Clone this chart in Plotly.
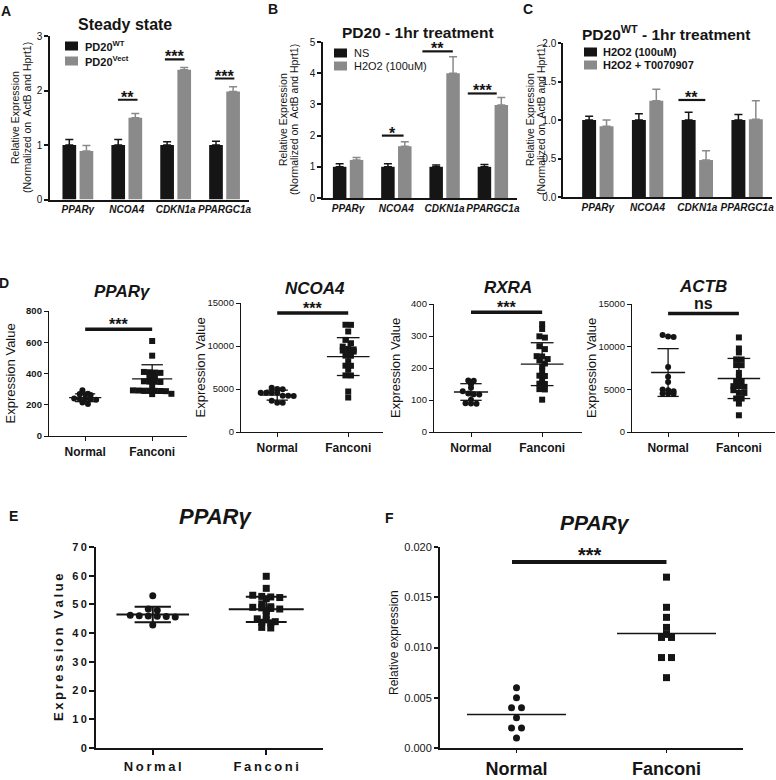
import plotly.graph_objects as go

W, H = 776, 780
FONT = "Arial, Liberation Sans, sans-serif"
BLACK = "#151515"
GREY = "#8a8a8a"
TS = "\u2009"  # thin space used for the letter-spaced labels of panel E

# ---------------- data ----------------
genes = ["PPARγ", "NCOA4", "CDKN1a", "PPARGC1a"]
groups = ["Normal", "Fanconi"]

# Panel A - steady state
A_wt = [1.0, 1.0, 1.0, 1.0]
A_wt_err = [0.10, 0.10, 0.06, 0.07]
A_vect = [0.89, 1.50, 2.38, 1.98]
A_vect_err = [0.10, 0.08, 0.04, 0.09]
A_sig_gene = [1, 2, 3]
A_sig_y = [1.83, 2.57, 2.22]
A_sig_txt = ["**", "***", "***"]

# Panel B - PD20 1hr treatment
B_ns = [1.0, 1.0, 1.0, 1.0]
B_ns_err = [0.10, 0.10, 0.06, 0.07]
B_h2o2 = [1.22, 1.66, 4.00, 2.98]
B_h2o2_err = [0.08, 0.14, 0.53, 0.24]
B_sig_gene = [1, 2, 3]
B_sig_y = [2.0, 4.70, 3.35]
B_sig_txt = ["*", "**", "***"]

# Panel C - PD20 WT 1hr treatment
C_h2o2 = [1.0, 1.0, 1.0, 1.0]
C_h2o2_err = [0.05, 0.08, 0.10, 0.07]
C_t007 = [0.92, 1.25, 0.48, 1.01]
C_t007_err = [0.08, 0.15, 0.12, 0.24]
C_sig_gene = [2]
C_sig_y = [1.26]
C_sig_txt = ["**"]

# Panel D - expression values
D_titles = ["PPARγ", "NCOA4", "RXRA", "ACTB"]
D_pparg_normal = [292, 270, 265, 268, 262, 240, 236, 238, 232, 235, 214, 205]
D_pparg_fanconi = [608, 514, 410, 408, 406, 404, 382, 378, 350, 348, 346, 347,
                   322, 292, 290, 288, 291, 289, 287, 290, 270, 268]
D_ncoa4_normal = [5140, 4990, 4980, 4560, 4570, 4550, 4560, 4210, 4200, 4220, 3620, 3390, 3400]
D_ncoa4_fanconi = [12470, 12460, 11690, 10710, 10320, 9930, 9660, 9470, 9350, 9400, 9600,
                   8880, 8870, 8220, 7710, 7700, 7250, 6580, 6570, 4710, 4010]
D_rxra_normal = [160, 161, 149, 138, 127, 118, 117, 120, 101, 89, 90, 88]
D_rxra_fanconi = [337, 322, 299, 295, 268, 259, 237, 228, 236, 224, 214, 204, 193,
                  175, 176, 163, 151, 150, 133, 134, 101]
D_actb_normal = [11200, 11120, 11355, 7630, 6460, 5870, 4970, 4780, 4900, 4500, 4510, 4490]
D_actb_fanconi = [11080, 9790, 9320, 8500, 8510, 7830, 7840, 6930, 6460, 5870, 5880, 5360,
                  5370, 5290, 4900, 4580, 4590, 3920, 3930, 3330, 1960]
D_mean = [[245, 365], [4285, 8770], [125, 212], [6970, 6270]]
D_sd = [[25, 91], [580, 2200], [26, 67], [2800, 2350]]
D_sig_y = [683, 13830, 374, 13900]
D_sig_txt = ["***", "***", "***", "ns"]
D_ticks = [[0, 200, 400, 600, 800], [0, 5000, 10000, 15000], [0, 100, 200, 300, 400],
           [0, 5000, 10000, 15000]]

# Panel E
E_normal = [53.0, 48.4, 48.0, 46.2, 46.0, 45.8, 45.9, 46.1, 45.6, 42.8]
E_fanconi = [59.8, 55.6, 53.2, 52.8, 52.6, 52.4, 52.0, 50.2, 49.2, 49.0, 48.8, 48.6,
             48.4, 47.8, 46.4, 45.0, 44.6, 44.0, 43.8, 43.6, 42.0, 41.8]
E_mean = [46.5, 48.3]
E_sd = [2.7, 4.4]
E_ticks = [0, 10, 20, 30, 40, 50, 60, 70]

# Panel F
F_normal = [0.006, 0.005, 0.004, 0.004, 0.003, 0.002, 0.002, 0.001]
F_fanconi = [0.017, 0.014, 0.013, 0.012, 0.0113, 0.011, 0.011, 0.009, 0.009, 0.007]
F_mean = [0.00333, 0.0114]
F_sig_y = 0.0185
F_ticks = [0, 0.005, 0.010, 0.015, 0.020]


# ---------------- helpers ----------------
def xd(a, b):
    return [a / W, b / W]


def yd(top, bot):
    return [1 - bot / H, 1 - top / H]


def px(x):
    return x / W


def py(y):
    return 1 - y / H


def swarm(vals, center, thr, step):
    order = sorted(range(len(vals)), key=lambda i: vals[i], reverse=True)
    rows, cur, start = [], [], None
    for i in order:
        if cur and start - vals[i] > thr:
            rows.append(cur)
            cur = []
        if not cur:
            start = vals[i]
        cur.append(i)
    if cur:
        rows.append(cur)
    xs = [0.0] * len(vals)
    for r in rows:
        n = len(r)
        for k, i in enumerate(r):
            xs[i] = center + (k - (n - 1) / 2) * step
    return xs


def ptext(x, y, text, size, angle=0, xanchor="center"):
    return dict(xref="paper", yref="paper", x=px(x), y=py(y), text=text, showarrow=False,
                xanchor=xanchor, yanchor="middle", textangle=angle,
                font=dict(size=size, family=FONT, color=BLACK))


fig = go.Figure()
layout = dict(width=W, height=H, margin=dict(l=0, r=0, t=0, b=0, autoexpand=False),
              paper_bgcolor="white", plot_bgcolor="white",
              font=dict(family=FONT, color=BLACK), showlegend=False,
              barmode="group", bargap=0.3, bargroupgap=0.2)
shapes, annots = [], []

# subplot geometry: (x0, x1, ytop, ybot, xrange, yrange)
geo = {
    1: (50, 249, 36, 199.5, [-0.57, 3.5], [0, 3]),
    2: (323, 517, 42, 198, [-0.52, 3.5], [0, 5]),
    3: (563, 772, 43, 197, [-0.7, 3.5], [0, 2]),
    4: (49, 187, 311, 436, [-0.54, 1.52], [0, 800]),
    5: (241, 383, 303, 432, [-0.51, 1.49], [0, 15000]),
    6: (434, 582, 304, 432, [-0.52, 1.56], [0, 400]),
    7: (632, 775, 304, 432, [-0.51, 1.51], [0, 15000]),
    8: (96, 323, 547, 748, [-0.5, 1.5], [0, 70]),
    9: (440, 743, 547, 748, [-0.51, 1.51], [0, 0.020]),
}


def axname(i):
    return ("x", "y") if i == 1 else (f"x{i}", f"y{i}")


def lkey(i):
    return ("xaxis", "yaxis") if i == 1 else (f"xaxis{i}", f"yaxis{i}")


for i, (x0, x1, yt, yb, xr, yr) in geo.items():
    xa, ya = axname(i)
    kx, ky = lkey(i)
    layout[kx] = dict(domain=xd(x0, x1), range=xr, anchor=ya, showline=True,
                      linecolor=BLACK, linewidth=1.5, showgrid=False, zeroline=False,
                      fixedrange=True, automargin=False, tickangle=0)
    layout[ky] = dict(domain=yd(yt, yb), range=yr, anchor=xa, showline=True,
                      linecolor=BLACK, linewidth=1.5, showgrid=False, zeroline=False,
                      ticks="outside", ticklen=4, tickwidth=1.5, tickcolor=BLACK,
                      tickfont=dict(size=10, family=FONT, color=BLACK), fixedrange=True,
                      automargin=False)

# ---------------- bar panels ----------------
bar_panels = [
    (1, A_wt, A_wt_err, A_vect, A_vect_err, A_sig_gene, A_sig_y, A_sig_txt,
     [(-0.18, 0.22), (-0.22, 0.18), (-0.2, 0.2)]),
    (2, B_ns, B_ns_err, B_h2o2, B_h2o2_err, B_sig_gene, B_sig_y, B_sig_txt,
     [(-0.3, 0.15), (-0.46, 0.17), (-0.52, 0.08)]),
    (3, C_h2o2, C_h2o2_err, C_t007, C_t007_err, C_sig_gene, C_sig_y, C_sig_txt,
     [(-0.38, 0.16)]),
]
for (i, v1, e1, v2, e2, sg, sy, st, offs) in bar_panels:
    xa, ya = axname(i)
    kx, ky = lkey(i)
    for vals, errs, col in ((v1, e1, BLACK), (v2, e2, GREY)):
        fig.add_trace(go.Bar(
            x=genes, y=vals, xaxis=xa, yaxis=ya, marker=dict(color=col, line=dict(width=0)),
            error_y=dict(type="data", array=errs, arrayminus=[0] * len(errs),
                         symmetric=False, color=col, thickness=1.5, width=4)))
    layout[kx].update(type="category", tickvals=genes,
                      ticktext=["<b><i>%s</i></b>" % g for g in genes],
                      tickfont=dict(size=10, family=FONT, color=BLACK), ticks="")
    for g, y, t, (o0, o1) in zip(sg, sy, st, offs):
        shapes.append(dict(type="line", xref=xa, yref=ya, x0=g + o0, x1=g + o1, y0=y, y1=y,
                           line=dict(color=BLACK, width=2.2)))
        annots.append(dict(xref=xa, yref=ya, x=g + (o0 + o1) / 2, y=y, text="<b>%s</b>" % t,
                           showarrow=False, xanchor="center", yanchor="bottom", yshift=-8,
                           font=dict(size=16, family=FONT, color=BLACK)))

layout["yaxis"].update(tickvals=[0, 1, 2, 3], ticktext=["0", "1", "2", "3"])
layout["yaxis2"].update(tickvals=[0, 1, 2, 3, 4, 5], ticktext=["0", "1", "2", "3", "4", "5"])
layout["yaxis3"].update(tickvals=[0, 0.5, 1.0, 1.5, 2.0], ticktext=["0.0", "0.5", "1.0", "1.5", "2.0"],
                        ticklen=3)

# bar panel legends (drawn as keys)
legends = [
    (65, 83, [46, 61], ["PD20<sup>WT</sup>", "PD20<sup>Vect</sup>"], True),
    (334, 352, [53, 66], ["NS", "H2O2 (100uM)"], False),
    (584, 601, [52, 65], ["H2O2 (100uM)", "H2O2 + T0070907"], True),
]
for (sx, tx, ys, labels, bold) in legends:
    for y, lab, col in zip(ys, labels, (BLACK, GREY)):
        shapes.append(dict(type="rect", xref="paper", yref="paper", x0=px(sx), x1=px(sx + 13),
                           y0=py(y + 4.5), y1=py(y - 4.5), fillcolor=col, line=dict(width=0)))
        annots.append(ptext(tx, y, ("<b>%s</b>" % lab) if bold else lab, 11, xanchor="left"))

# bar panel titles, y titles, letters
for (x, y, t, s) in [(125, 25, "Steady state", 16), (418, 33, "PD20 - 1hr treatment", 15.5),
                     (666, 33, "PD20<sup>WT</sup> - 1hr treatment", 15.5)]:
    annots.append(ptext(x, y, "<b>%s</b>" % t, s))
for (x1, x2, yc) in [(15, 27, 118), (283, 294, 120), (530, 541, 120)]:
    annots.append(ptext(x1, yc, "Relative Expression", 10.5, angle=-90))
    annots.append(ptext(x2, yc, "(Normalized on  ActB and Hprt1)", 10.5, angle=-90))
for (x, y, t) in [(6, 11, "A"), (273, 9, "B"), (528, 9, "C"), (4, 283, "D"), (14, 516, "E"), (389, 518, "F")]:
    annots.append(ptext(x, y, "<b>%s</b>" % t, 14))


# ---------------- dot panels ----------------
def dot_panel(i, normal, fanconi, means, sds, step_px, msize, lw, hw_mean, hw_cap, thr_px=3.5):
    xa, ya = axname(i)
    x0, x1, yt, yb, xr, yr = geo[i]
    x_per_px = (xr[1] - xr[0]) / (x1 - x0)
    y_per_px = (yr[1] - yr[0]) / (yb - yt)
    for gi, (vals, sym) in enumerate(((normal, "circle"), (fanconi, "square"))):
        xs = swarm(vals, gi, thr_px * y_per_px, step_px * x_per_px)
        fig.add_trace(go.Scatter(x=xs, y=vals, xaxis=xa, yaxis=ya, mode="markers",
                                 marker=dict(symbol=sym, size=msize, color=BLACK,
                                             line=dict(width=0))))
    lx, ly = [], []
    for gi in range(2):
        m = means[gi]
        hm = hw_mean[gi]
        lx += [gi - hm, gi + hm, None]
        ly += [m, m, None]
        if sds is not None:
            s = sds[gi]
            hc = hw_cap[gi]
            lx += [gi, gi, None, gi - hc, gi + hc, None, gi - hc, gi + hc, None]
            ly += [m - s, m + s, None, m + s, m + s, None, m - s, m - s, None]
    fig.add_trace(go.Scatter(x=lx, y=ly, xaxis=xa, yaxis=ya, mode="lines",
                             line=dict(color=BLACK, width=lw)))


D_sets = [(D_pparg_normal, D_pparg_fanconi), (D_ncoa4_normal, D_ncoa4_fanconi),
          (D_rxra_normal, D_rxra_fanconi), (D_actb_normal, D_actb_fanconi)]
D_title_pos = [(122, 291), (315, 288), (508, 287), (703, 286)]
D_ytitle_x = [10, 200, 395, 591]
for k in range(4):
    i = 4 + k
    xa, ya = axname(i)
    kx, ky = lkey(i)
    n, f = D_sets[k]
    dot_panel(i, n, f, D_mean[k], D_sd[k], 5.5, 6, 1.3, [0.24, 0.3], [0.15, 0.16])
    layout[kx].update(tickvals=[0, 1], ticktext=["<b>%s</b>" % g for g in groups],
                      ticks="outside", ticklen=4, tickwidth=1.3, tickcolor=BLACK,
                      tickfont=dict(size=12, family=FONT, color=BLACK), linewidth=1.3)
    tt = [str(v) for v in D_ticks[k]]
    if k == 0:
        tt = ["<b>%s</b>" % t for t in tt]
    layout[ky].update(tickvals=D_ticks[k], ticktext=tt, linewidth=1.3, tickwidth=1.3,
                      tickfont=dict(size=9.5, family=FONT, color=BLACK))
    shapes.append(dict(type="line", xref=xa, yref=ya, x0=0, x1=1, y0=D_sig_y[k], y1=D_sig_y[k],
                       line=dict(color=BLACK, width=3.5)))
    annots.append(dict(xref=xa, yref=ya, x=0.5, y=D_sig_y[k], text="<b>%s</b>" % D_sig_txt[k],
                       showarrow=False, xanchor="center", yanchor="bottom",
                       yshift=-6 if D_sig_txt[k] != "ns" else -1,
                       font=dict(size=16, family=FONT, color=BLACK)))
    tx, ty = D_title_pos[k]
    annots.append(ptext(tx, ty, "<b><i>%s</i></b>" % D_titles[k], 17))
    x0, x1, yt, yb, xr, yr = geo[i]
    annots.append(ptext(D_ytitle_x[k], (yt + yb) / 2, "Expression Value", 13, angle=-90))

# Panel E
dot_panel(8, E_normal, E_fanconi, E_mean, E_sd, 9, 7, 2, [0.32, 0.33], [0.16, 0.18], thr_px=3)
layout["xaxis8"].update(tickvals=[0, 1], ticktext=["<b>%s</b>" % TS.join(g) for g in groups],
                        ticks="outside", ticklen=5, tickwidth=2, tickcolor=BLACK,
                        tickfont=dict(size=13, family=FONT, color=BLACK), linewidth=2)
layout["yaxis8"].update(tickvals=E_ticks, ticktext=["<b>%s</b>" % TS.join(str(v)) for v in E_ticks],
                        linewidth=2, tickwidth=2, ticklen=5,
                        tickfont=dict(size=11, family=FONT, color=BLACK))
annots.append(ptext(215, 516, "<b><i>PPARγ</i></b>", 22))
annots.append(ptext(58, 648, "<b>%s</b>" % TS.join("Expression Value"), 13, angle=-90))

# Panel F
dot_panel(9, F_normal, F_fanconi, F_mean, None, 10, 7, 1.5, [0.33, 0.33], None, thr_px=3)
layout["xaxis9"].update(tickvals=[0, 1], ticktext=["<b>%s</b>" % g for g in groups],
                        ticks="outside", ticklen=3, tickwidth=1, tickcolor=BLACK,
                        tickfont=dict(size=18, family=FONT, color=BLACK), linewidth=2)
layout["yaxis9"].update(tickvals=F_ticks, ticktext=["%.3f" % v for v in F_ticks],
                        linewidth=2, tickwidth=1.5, ticklen=4,
                        tickfont=dict(size=11, family=FONT, color=BLACK))
shapes.append(dict(type="line", xref="x9", yref="y9", x0=-0.03, x1=1.0, y0=F_sig_y, y1=F_sig_y,
                   line=dict(color=BLACK, width=4)))
annots.append(dict(xref="x9", yref="y9", x=0.49, y=F_sig_y, text="<b>***</b>", showarrow=False,
                   xanchor="center", yanchor="bottom", yshift=-6,
                   font=dict(size=20, family=FONT, color=BLACK)))
annots.append(ptext(595, 522, "<b><i>PPARγ</i></b>", 21))
annots.append(ptext(394, 643, "Relative expression", 12, angle=-90))

layout["shapes"] = shapes
layout["annotations"] = annots
fig.update_layout(**layout)
fig.write_html("out.html", config={"displayModeBar": False},
               post_script="document.body.style.margin='0';document.body.style.padding='0';"
                           "document.documentElement.style.overflow='hidden';")
